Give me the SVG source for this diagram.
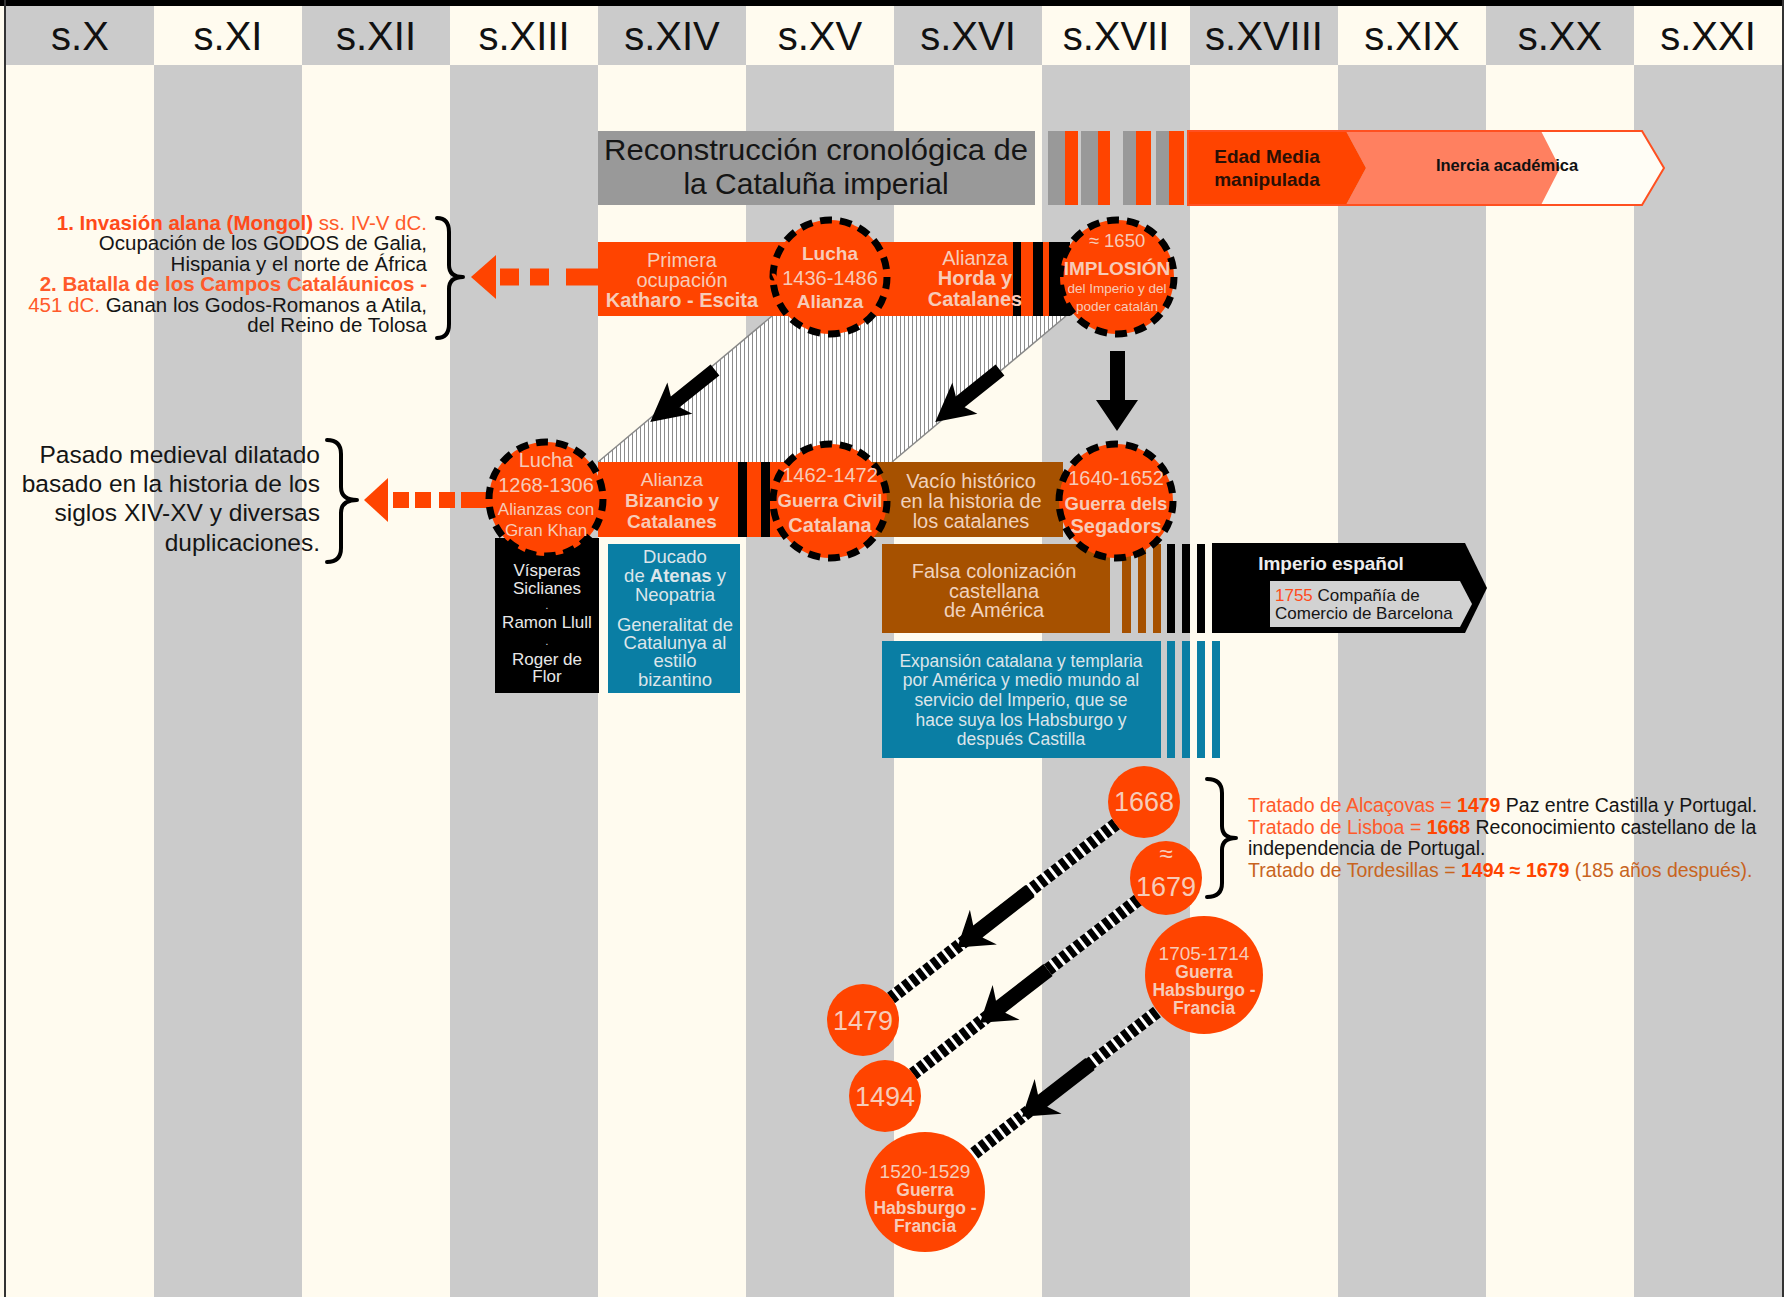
<svg xmlns="http://www.w3.org/2000/svg" width="1787" height="1297" viewBox="0 0 1787 1297">
<defs>
<style>
text{font-family:"Liberation Sans",Arial,sans-serif}
.hdr{font-size:40px;fill:#111;text-anchor:middle}
.c{text-anchor:middle}
.e{text-anchor:end}
.b{font-weight:bold}
.po{fill:#F7CBB8}
.pb{fill:#F0D2BE}
.pl{fill:#DCE5EA}
.pw{fill:#E8E8E8}
.k{fill:#151515}
.f10{font-size:10px}
.f13{font-size:13.5px}
.f16{font-size:16.5px}
.f17{font-size:17px}
.f175{font-size:17.5px}
.f185{font-size:18.5px}
.f19{font-size:19px}
.f195{font-size:19.5px}
.f20{font-size:20px}
.f205{font-size:20.5px}
.f24{font-size:24.5px}
.f27{font-size:27px}
.f30{font-size:30px}
.orange{fill:#FF4400}
.gray{fill:#CBCBCB}
.ring{fill:none;stroke:#000;stroke-width:7;stroke-dasharray:12 8}
.brace{fill:none;stroke:#000;stroke-width:4;stroke-linecap:round;stroke-linejoin:round}
.sbg{stroke:#fff;stroke-width:13;fill:none}
.sfg{stroke:#000;stroke-width:13;stroke-dasharray:6 3;fill:none}
</style>
<pattern id="hatch" width="4" height="10" patternUnits="userSpaceOnUse"><rect width="4" height="10" fill="#fff"/><rect width="1" height="10" fill="#8c8c8c"/></pattern>
</defs>

<g id="background">
<rect x="0" y="0" width="1787" height="1297" fill="#FFFBEF"/>
<rect class="gray" x="6" y="6" width="148" height="59"/>
<rect class="gray" x="302" y="6" width="148" height="59"/>
<rect class="gray" x="598" y="6" width="148" height="59"/>
<rect class="gray" x="894" y="6" width="148" height="59"/>
<rect class="gray" x="1190" y="6" width="148" height="59"/>
<rect class="gray" x="1486" y="6" width="148" height="59"/>
<rect class="gray" x="154" y="65" width="148" height="1232"/>
<rect class="gray" x="450" y="65" width="148" height="1232"/>
<rect class="gray" x="746" y="65" width="148" height="1232"/>
<rect class="gray" x="1042" y="65" width="148" height="1232"/>
<rect class="gray" x="1338" y="65" width="148" height="1232"/>
<rect class="gray" x="1634" y="65" width="148" height="1232"/>
<rect x="0" y="0" width="1787" height="6" fill="#000"/>
<rect x="4" y="0" width="2" height="1297" fill="#333"/>
<rect x="1782" y="0" width="2" height="1297" fill="#333"/>
<rect x="1784" y="0" width="3" height="1297" fill="#fff"/>
</g>

<g id="headers">
<text class="hdr" x="80" y="50">s.X</text>
<text class="hdr" x="228" y="50">s.XI</text>
<text class="hdr" x="376" y="50">s.XII</text>
<text class="hdr" x="524" y="50">s.XIII</text>
<text class="hdr" x="672" y="50">s.XIV</text>
<text class="hdr" x="820" y="50">s.XV</text>
<text class="hdr" x="968" y="50">s.XVI</text>
<text class="hdr" x="1116" y="50">s.XVII</text>
<text class="hdr" x="1264" y="50">s.XVIII</text>
<text class="hdr" x="1412" y="50">s.XIX</text>
<text class="hdr" x="1560" y="50">s.XX</text>
<text class="hdr" x="1708" y="50">s.XXI</text>
</g>

<g id="title">
<rect x="598" y="131" width="437" height="74" fill="#999"/>
<text class="c f30 k" x="816" y="160" textLength="424" lengthAdjust="spacingAndGlyphs">Reconstrucción cronológica de</text>
<text class="c f30 k" x="816" y="194">la Cataluña imperial</text>
</g>

<g id="title-stripes" fill="#999">
<rect x="1048" y="131" width="17" height="74"/>
<rect x="1065" y="131" width="13" height="74" class="orange"/>
<rect x="1081" y="131" width="17" height="74"/>
<rect x="1098" y="131" width="12" height="74" class="orange"/>
<rect x="1123" y="131" width="13" height="74"/>
<rect x="1136" y="131" width="15" height="74" class="orange"/>
<rect x="1156" y="131" width="13" height="74"/>
<rect x="1169" y="131" width="15" height="74" class="orange"/>
</g>

<g id="edad-media">
<polygon points="1541,131 1642,131 1664,168 1642,205 1541,205 1560,168" fill="#FFFDF5"/>
<polygon points="1346,131 1541,131 1560,168 1541,205 1346,205 1366,168" fill="#FF8060"/>
<polygon points="1188,131 1346,131 1366,168 1346,205 1188,205" class="orange"/>
<polygon points="1188,131 1642,131 1664,168 1642,205 1188,205" fill="none" stroke="#FF5020" stroke-width="2"/>
<text class="c b f19" x="1267" y="163" fill="#2a1005">Edad Media</text>
<text class="c b f19" x="1267" y="186" fill="#2a1005">manipulada</text>
<text class="c b f16" x="1507" y="171" fill="#111">Inercia académica</text>
</g>

<g id="hatch-area">
<polygon points="772,316 1066,316 892,462 598,462" fill="url(#hatch)"/>
<line x1="772" y1="316" x2="598" y2="462" stroke="#888" stroke-width="1.5"/>
<line x1="1066" y1="316" x2="892" y2="462" stroke="#888" stroke-width="1.5"/>
</g>

<g id="left-note-1">
<text class="e f205" x="427" y="230"><tspan class="b" fill="#FF4A1A">1. Invasión alana (Mongol)</tspan><tspan fill="#FF5A2A"> ss. IV-V dC.</tspan></text>
<text class="e f205 k" x="427" y="250">Ocupación de los GODOS de Galia,</text>
<text class="e f205 k" x="427" y="271">Hispania y el norte de África</text>
<text class="e f205 b" x="427" y="291" fill="#FF5A2A">2. Batalla de los Campos Cataláunicos -</text>
<text class="e f205" x="427" y="312"><tspan fill="#FF5A2A">451 dC.</tspan><tspan fill="#151515"> Ganan los Godos-Romanos a Atila,</tspan></text>
<text class="e f205 k" x="427" y="332">del Reino de Tolosa</text>
<path class="brace" d="M437,218 Q449,218 449,232 L449,265 Q449,277 463,277 Q449,277 449,289 L449,324 Q449,338 437,338"/>
</g>

<g id="left-note-2">
<text class="e f24 k" x="320" y="463">Pasado medieval dilatado</text>
<text class="e f24 k" x="320" y="492">basado en la historia de los</text>
<text class="e f24 k" x="320" y="521">siglos XIV-XV y diversas</text>
<text class="e f24 k" x="320" y="551">duplicaciones.</text>
<path class="brace" d="M327,440 Q341,440 341,454 L341,487 Q341,500 357,500 Q341,500 341,513 L341,548 Q341,562 327,562"/>
</g>

<g id="row1-bar">
<rect x="598" y="242" width="472" height="74" class="orange"/>
<rect x="1013" y="242" width="8" height="74" fill="#000"/>
<rect x="1033" y="242" width="10" height="74" fill="#000"/>
<rect x="1049" y="242" width="21" height="74" fill="#000"/>
<text class="c f20 po" x="682" y="267">Primera</text>
<text class="c f20 po" x="682" y="287">ocupación</text>
<text class="c f20 po b" x="682" y="307">Katharo - Escita</text>
<text class="c f20 po" x="975" y="265">Alianza</text>
<text class="c f20 po b" x="975" y="285">Horda y</text>
<text class="c f20 po b" x="975" y="306">Catalanes</text>
</g>

<g id="row2-bars">
<rect x="598" y="462" width="232" height="75" class="orange"/>
<rect x="738" y="462" width="9" height="75" fill="#000"/>
<rect x="761" y="462" width="9" height="75" fill="#000"/>
<text class="c f19 po" x="672" y="486">Alianza</text>
<text class="c f19 po b" x="672" y="507">Bizancio y</text>
<text class="c f19 po b" x="672" y="528">Catalanes</text>
<rect x="860" y="462" width="203" height="75" fill="#A65100"/>
<text class="c f20 pb" x="971" y="488">Vacío histórico</text>
<text class="c f20 pb" x="971" y="508">en la historia de</text>
<text class="c f20 pb" x="971" y="528">los catalanes</text>
</g>

<g id="box-visperas">
<rect x="495" y="538" width="104" height="155" fill="#000"/>
<text class="c f17 pw" x="547" y="576">Vísperas</text>
<text class="c f17 pw" x="547" y="594">Siclianes</text>
<text class="c f10 pw" x="547" y="609">.</text>
<text class="c f17 pw" x="547" y="628">Ramon Llull</text>
<text class="c f10 pw" x="547" y="645">.</text>
<text class="c f17 pw" x="547" y="665">Roger de</text>
<text class="c f17 pw" x="547" y="682">Flor</text>
</g>

<g id="box-atenas">
<rect x="608" y="544" width="132" height="149" fill="#0A7EA4"/>
<text class="c f185 pl" x="675" y="563">Ducado</text>
<text class="c f185 pl" x="675" y="582">de <tspan class="b">Atenas</tspan> y</text>
<text class="c f185 pl" x="675" y="601">Neopatria</text>
<text class="c f185 pl" x="675" y="631">Generalitat de</text>
<text class="c f185 pl" x="675" y="649">Catalunya al</text>
<text class="c f185 pl" x="675" y="667">estilo</text>
<text class="c f185 pl" x="675" y="686">bizantino</text>
</g>

<g id="box-falsa">
<rect x="882" y="544" width="228" height="89" fill="#A65100"/>
<text class="c f20 pb" x="994" y="578">Falsa colonización</text>
<text class="c f20 pb" x="994" y="598">castellana</text>
<text class="c f20 pb" x="994" y="617">de América</text>
<rect x="1122" y="544" width="9" height="89" fill="#A65100"/>
<rect x="1138" y="544" width="8" height="89" fill="#A65100"/>
<rect x="1153" y="544" width="8" height="89" fill="#A65100"/>
<rect x="1167" y="544" width="8" height="89" fill="#000"/>
<rect x="1182" y="544" width="8" height="89" fill="#000"/>
<rect x="1197" y="544" width="8" height="89" fill="#000"/>
</g>

<g id="imperio">
<polygon points="1212,543 1465,543 1487,588 1465,633 1212,633" fill="#000"/>
<text class="c b f19" x="1331" y="570" fill="#EDEDED">Imperio español</text>
<polygon points="1270,581 1460,581 1472,604 1460,627 1270,627" fill="#D2D2D2"/>
<text class="f17" x="1275" y="601"><tspan fill="#FF4A1A">1755</tspan><tspan fill="#151515"> Compañía de</tspan></text>
<text class="f17 k" x="1275" y="619">Comercio de Barcelona</text>
</g>

<g id="box-expansion">
<rect x="882" y="641" width="279" height="117" fill="#0A7EA4"/>
<rect x="1167" y="641" width="8" height="117" fill="#0A7EA4"/>
<rect x="1182" y="641" width="8" height="117" fill="#0A7EA4"/>
<rect x="1197" y="641" width="8" height="117" fill="#0A7EA4"/>
<rect x="1212" y="641" width="8" height="117" fill="#0A7EA4"/>
<text class="c f175 pl" x="1021" y="667">Expansión catalana y templaria</text>
<text class="c f175 pl" x="1021" y="686">por América y medio mundo al</text>
<text class="c f175 pl" x="1021" y="706">servicio del Imperio, que se</text>
<text class="c f175 pl" x="1021" y="726">hace suya los Habsburgo y</text>
<text class="c f175 pl" x="1021" y="745">después Castilla</text>
</g>

<g id="connectors">
<g fill="#FF4400">
<polygon points="471,277 496,255 496,299"/>
<rect x="500" y="268.5" width="19" height="17"/>
<rect x="530" y="268.5" width="19" height="17"/>
<rect x="566" y="268.5" width="34" height="17"/>
<polygon points="364,500 388,478 388,522"/>
<rect x="393" y="492" width="16" height="16"/>
<rect x="415" y="492" width="16" height="16"/>
<rect x="439" y="492" width="16" height="16"/>
<rect x="461" y="492" width="40" height="16"/>
</g>
<g fill="#000">
<path d="M0,-7 H51 L45,-20 L83,0 L45,20 L51,7 H0 Z" transform="translate(715,370) rotate(141.3)"/>
<path d="M0,-7 H51 L45,-20 L83,0 L45,20 L51,7 H0 Z" transform="translate(1000,370) rotate(141.3)"/>
<polygon points="1110,351 1125,351 1125,400 1138,400 1117,431 1096,400 1110,400"/>
</g>
<line class="sbg" x1="1116" y1="824" x2="891" y2="998"/>
<line class="sfg" x1="1116" y1="824" x2="891" y2="998"/>
<line class="sbg" x1="1138" y1="900" x2="913" y2="1074"/>
<line class="sfg" x1="1138" y1="900" x2="913" y2="1074"/>
<line class="sbg" x1="1157" y1="1012" x2="972" y2="1155"/>
<line class="sfg" x1="1157" y1="1012" x2="972" y2="1155"/>
<g fill="#000">
<path d="M0,-7.5 H66 L59,-22 L92,0 L59,22 L66,7.5 H0 Z" transform="translate(1030,891) rotate(142.2)"/>
<path d="M0,-7.5 H60 L53,-22 L86,0 L53,22 L60,7.5 H0 Z" transform="translate(1048,970) rotate(142.2)"/>
<path d="M0,-7.5 H60 L53,-22 L86,0 L53,22 L60,7.5 H0 Z" transform="translate(1090,1064) rotate(142.2)"/>
</g>
</g>

<g id="c-lucha-1436">
<circle cx="830" cy="277" r="57" class="orange"/>
<circle cx="830" cy="277" r="57" class="ring" pathLength="360"/>
<text class="c f19 po b" x="830" y="260">Lucha</text>
<text class="c f20 po" x="830" y="285">1436-1486</text>
<text class="c f19 po b" x="830" y="308">Alianza</text>
</g>

<g id="c-implosion">
<circle cx="1117" cy="277" r="57" class="orange"/>
<circle cx="1117" cy="277" r="57" class="ring" pathLength="360"/>
<text class="c f185 po" x="1117" y="247">≈ 1650</text>
<text class="c f19 po b" x="1117" y="275">IMPLOSIÓN</text>
<text class="c f13 po" x="1117" y="293">del Imperio y del</text>
<text class="c f13 po" x="1117" y="311">poder catalán</text>
</g>

<g id="c-lucha-1268">
<circle cx="546" cy="499" r="57" class="orange"/>
<circle cx="546" cy="499" r="57" class="ring" pathLength="360"/>
<text class="c f20 po" x="546" y="467">Lucha</text>
<text class="c f20 po" x="546" y="492">1268-1306</text>
<text class="c f17 po" x="546" y="515">Alianzas con</text>
<text class="c f17 po" x="546" y="536">Gran Khan</text>
</g>

<g id="c-guerra-civil">
<circle cx="830" cy="501" r="57" class="orange"/>
<circle cx="830" cy="501" r="57" class="ring" pathLength="360"/>
<text class="c f20 po" x="830" y="482">1462-1472</text>
<text class="c f185 po b" x="830" y="507">Guerra Civil</text>
<text class="c f20 po b" x="830" y="532">Catalana</text>
</g>

<g id="c-segadors">
<circle cx="1116" cy="501" r="57" class="orange"/>
<circle cx="1116" cy="501" r="57" class="ring" pathLength="360"/>
<text class="c f20 po" x="1116" y="485">1640-1652</text>
<text class="c f185 po b" x="1116" y="510">Guerra dels</text>
<text class="c f20 po b" x="1116" y="533">Segadors</text>
</g>

<g id="c-1668">
<circle cx="1144" cy="802" r="36" class="orange"/>
<text class="c f27 po" x="1144" y="811">1668</text>
</g>
<g id="c-1679">
<ellipse cx="1166" cy="878" rx="36" ry="37" class="orange"/>
<text class="c f24 po" x="1166" y="862">≈</text>
<text class="c f27 po" x="1166" y="896">1679</text>
</g>
<g id="c-1705">
<circle cx="1204" cy="975" r="59" class="orange"/>
<text class="c f19 po" x="1204" y="960">1705-1714</text>
<text class="c f175 po b" x="1204" y="978">Guerra</text>
<text class="c f175 po b" x="1204" y="996">Habsburgo -</text>
<text class="c f175 po b" x="1204" y="1014">Francia</text>
</g>
<g id="c-1479">
<circle cx="863" cy="1020" r="36" class="orange"/>
<text class="c f27 po" x="863" y="1030">1479</text>
</g>
<g id="c-1494">
<circle cx="885" cy="1096" r="36" class="orange"/>
<text class="c f27 po" x="885" y="1106">1494</text>
</g>
<g id="c-1520">
<circle cx="925" cy="1192" r="60" class="orange"/>
<text class="c f19 po" x="925" y="1178">1520-1529</text>
<text class="c f175 po b" x="925" y="1196">Guerra</text>
<text class="c f175 po b" x="925" y="1214">Habsburgo -</text>
<text class="c f175 po b" x="925" y="1232">Francia</text>
</g>

<g id="tratados">
<path class="brace" d="M1207,779 Q1222,779 1222,793 L1222,826 Q1222,838 1236,838 Q1222,838 1222,850 L1222,883 Q1222,897 1207,897"/>
<text class="f195" x="1248" y="812"><tspan fill="#FF5A2A">Tratado de Alcaçovas = </tspan><tspan class="b" fill="#FF4400">1479</tspan><tspan fill="#151515"> Paz entre Castilla y Portugal.</tspan></text>
<text class="f195" x="1248" y="834"><tspan fill="#FF5A2A">Tratado de Lisboa = </tspan><tspan class="b" fill="#FF4400">1668</tspan><tspan fill="#151515"> Reconocimiento castellano de la</tspan></text>
<text class="f195 k" x="1248" y="855">independencia de Portugal.</text>
<text class="f195" x="1248" y="877"><tspan fill="#C8641E">Tratado de Tordesillas = </tspan><tspan class="b" fill="#FF4400">1494 ≈ 1679</tspan><tspan fill="#C8641E"> (185 años después).</tspan></text>
</g>
</svg>
